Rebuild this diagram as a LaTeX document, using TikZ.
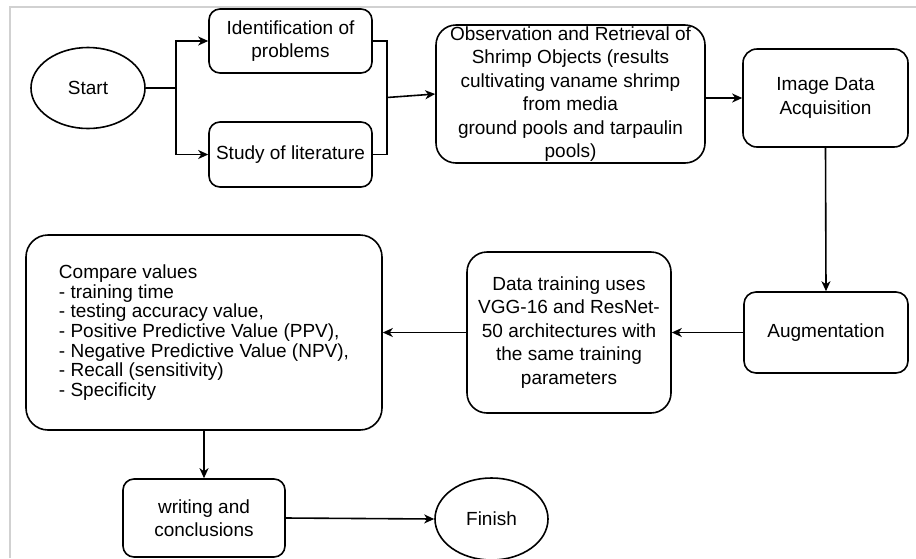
\documentclass[tikz,border=0pt]{standalone}
\usepackage{fontspec}
\setmainfont{Liberation Sans}
\usetikzlibrary{shapes.geometric,arrows.meta}
\begin{document}
\begin{tikzpicture}[x=1pt,y=-1pt,line width=1.6pt,
  every node/.style={font={\fontsize{19}{23.5}\selectfont},inner sep=0pt,align=center},
  procbox/.style={draw,rectangle,rounded corners=#1},
  procbox/.default=11pt,
  terminal/.style={draw,ellipse},
  flow/.style={-{Stealth[length=10pt,width=9pt,inset=3pt]}}]
\useasboundingbox (0,0) rectangle (916,558);
% page frame
\draw[black!18,line width=1.6pt] (10,558) -- (10,7) -- (916,7);
% top row
\node (start) at (88,88) [terminal,minimum width=114pt,minimum height=81pt] {Start};
\node (ident) at (290.5,41) [procbox,minimum width=163pt,minimum height=64pt] {Identification of\\problems};
\node (study) at (290.5,154.5) [procbox,minimum width=163pt,minimum height=65pt] {Study of literature};
\node (obs) at (570.5,94) [procbox=20pt,minimum width=269pt,minimum height=138pt] {Observation and Retrieval of\\Shrimp Objects (results\\cultivating vaname shrimp\\from media\\ground pools and tarpaulin\\pools)};
\node (image) at (825.5,98) [procbox=14pt,minimum width=165pt,minimum height=98pt] {Image Data\\Acquisition};
% middle row
\node (aug) at (826,332.5) [procbox=12pt,minimum width=164pt,minimum height=81pt] {Augmentation};
\node (train) at (569,332.5) [procbox=20pt,minimum width=204pt,minimum height=161pt] {Data training uses\\VGG-16 and ResNet-\\50 architectures with\\the same training\\parameters};
\node (compare) at (204,332.5) [procbox=22pt,minimum width=356pt,minimum height=195pt,align=left,font={\fontsize{19}{19.6}\selectfont}] {Compare values\\- training time\\- testing accuracy value,\\- Positive Predictive Value (PPV),\\- Negative Predictive Value (NPV),\\- Recall (sensitivity)\\- Specificity};
% bottom row
\node (writing) at (204,518) [procbox,minimum width=162pt,minimum height=78pt] {writing and\\conclusions};
\node (finish) at (491.5,519) [terminal,minimum width=113pt,minimum height=82pt] {Finish};
% connectors
\coordinate (split) at (176,88);
\coordinate (merge) at (387,97.5);
\draw (start.east) -- (split);
\draw[flow] (split) |- (ident.west);
\draw[flow] (split) |- (study.west);
\draw (ident.east) -| (merge);
\draw (study.east) -| (merge);
\draw[flow] (merge) -- (obs.west);
\draw[flow] (image.west -| obs.east) -- (image.west);
\draw[flow] (image.south) -- (aug.north);
\draw[flow] (aug.west) -- (train.east);
\draw[flow] (train.west) -- (compare.east);
\draw[flow] (compare.south) -- (writing.north);
\draw[flow] (writing.east) -- (finish.west);
\end{tikzpicture}
\end{document}
